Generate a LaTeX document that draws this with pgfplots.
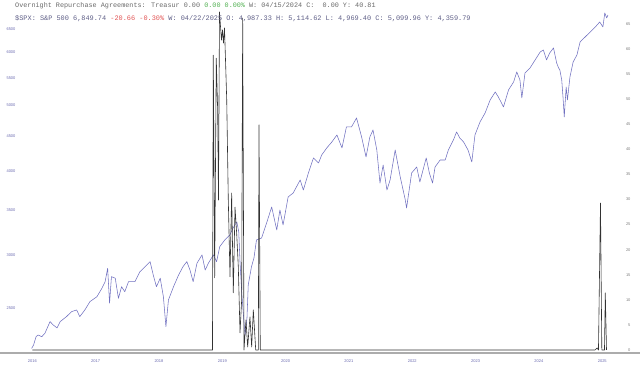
\documentclass[border=0pt]{standalone}
\usepackage{pgfplots}
\pgfplotsset{compat=1.18}
\usepackage{pgfplotstable}
\usepackage{fontspec}
\setmainfont{Liberation Sans}
\newfontfamily\monofont{Liberation Mono}
\definecolor{spx}{RGB}{112,112,192}
\definecolor{rp}{RGB}{50,50,50}
\definecolor{hdr}{RGB}{105,105,105}
\definecolor{hdrb}{RGB}{95,95,135}
\definecolor{grn}{RGB}{80,175,80}
\definecolor{rd}{RGB}{225,85,85}
\definecolor{lbl}{RGB}{105,105,175}
\definecolor{rlbl}{RGB}{125,125,125}

\pgfplotstableread{
t v
2015.99 2177
2016.02 2202
2016.06 2266
2016.09 2279
2016.15 2266
2016.20 2293
2016.28 2386
2016.33 2359
2016.39 2335
2016.44 2386
2016.54 2427
2016.62 2469
2016.70 2483
2016.75 2427
2016.83 2483
2016.91 2555
2017.02 2598
2017.10 2675
2017.15 2736
2017.19 2864
2017.22 2541
2017.25 2783
2017.31 2768
2017.36 2584
2017.41 2689
2017.46 2643
2017.52 2736
2017.62 2736
2017.70 2831
2017.78 2880
2017.86 2930
2017.91 2799
2017.96 2689
2018.02 2768
2018.07 2598
2018.11 2345
2018.15 2570
2018.23 2689
2018.31 2799
2018.38 2880
2018.44 2930
2018.49 2847
2018.54 2736
2018.60 2914
2018.68 2998
2018.73 2847
2018.78 2914
2018.86 2998
2018.91 2930
2018.96 3084
2019.04 3156
2019.12 3210
2019.17 3288
2019.23 3357
2019.26 3244
2019.28 2927
2019.31 2614
2019.34 2399
2019.36 2279
2019.39 2416
2019.41 2705
2019.46 2877
2019.50 2967
2019.54 3156
2019.62 3177
2019.70 3345
2019.78 3533
2019.86 3266
2019.91 3497
2019.96 3322
2020.04 3657
2020.12 3707
2020.23 3876
2020.28 3745
2020.36 3970
2020.44 4179
2020.52 4108
2020.57 4222
2020.65 4325
2020.73 4414
2020.81 4521
2020.89 4325
2020.96 4647
2021.04 4647
2021.12 4792
2021.20 4490
2021.27 4193
2021.33 4490
2021.38 4599
2021.44 4295
2021.49 3836
2021.54 4080
2021.60 3745
2021.65 3876
2021.73 4295
2021.81 3916
2021.89 3619
2021.91 3521
2021.99 3970
2022.07 4052
2022.12 3849
2022.17 4011
2022.22 4179
2022.27 3970
2022.32 3836
2022.36 4052
2022.44 4150
2022.52 4150
2022.57 4295
2022.65 4445
2022.70 4568
2022.75 4475
2022.81 4414
2022.88 4295
2022.94 4122
2022.99 4521
2023.07 4728
2023.15 4875
2023.23 5097
2023.31 5238
2023.36 5149
2023.44 4977
2023.52 5275
2023.60 5421
2023.65 5610
2023.70 5458
2023.73 5132
2023.78 5591
2023.86 5688
2023.94 5846
2024.02 6008
2024.07 6049
2024.12 5846
2024.17 5987
2024.23 6091
2024.28 5786
2024.31 5688
2024.33 5649
2024.36 5458
2024.38 5149
2024.40 4809
2024.43 5329
2024.45 5097
2024.49 5515
2024.54 5805
2024.60 5946
2024.65 6217
2024.73 6325
2024.81 6434
2024.89 6545
2024.96 6658
2025.01 6545
2025.04 6866
2025.07 6750
2025.09 6819
}\spxdata

\pgfplotstableread{
t v
2016.00 0
2018.845 0
2018.858 58.8
2018.880 14.4
2018.905 58.2
2018.927 47.9
2018.940 29.9
2018.956 67.4
2018.987 61.8
2019.003 63.8
2019.019 61.2
2019.035 64.2
2019.051 57.8
2019.070 49.9
2019.095 29.9
2019.122 14.6
2019.148 31.3
2019.174 11.4
2019.201 28.5
2019.227 23.3
2019.253 16.6
2019.280 3.4
2019.306 10.0
2019.322 66.2
2019.343 0
2019.374 6.0
2019.401 0.6
2019.437 6.6
2019.464 0.6
2019.490 8.0
2019.528 0
2019.569 0
2019.580 44.9
2019.600 0
2024.885 0
2024.920 0.4
2024.940 0
2024.972 29.3
2024.993 0
2025.035 0
2025.048 11.4
2025.067 0
}\rpdata

\begin{document}
\begin{tikzpicture}
\begin{axis}[name=main, at={(0pt,0pt)}, anchor=south west, width=640pt, height=353pt, scale only axis,
  xmin=2015.49, xmax=2025.596, ymode=log, ymin=2143, ymax=7179,
  axis x line*=bottom, axis y line*=left,
  x axis line style={draw=gray!65, line width=1.2pt, -},
  y axis line style={draw=none},
  tick style={draw=none},
  xtick={2016,2017,2018,2019,2020,2021,2022,2023,2024,2025},
  xticklabels={2016,2017,2018,2019,2020,2021,2022,2023,2024,2025},
  xticklabel style={font=\fontsize{4}{4}\selectfont, text=lbl, yshift=-3pt},
  ytick={2500,3000,3500,4000,4500,5000,5500,6000,6500},
  yticklabels={2500,3000,3500,4000,4500,5000,5500,6000,6500},
  yticklabel style={font=\fontsize{4}{4}\selectfont, text=lbl, anchor=west, xshift=3pt},
  clip=false]
\addplot[spx, line width=0.55pt, line join=round] table[x=t,y=v] {\spxdata};
\end{axis}
\begin{axis}[at={(0pt,0pt)}, anchor=south west, width=640pt, height=353pt, scale only axis,
  xmin=2015.49, xmax=2025.596, ymin=-0.6, ymax=69.79,
  axis x line=none, axis y line*=right,
  y axis line style={draw=none},
  tick style={draw=none},
  ytick={0,5,10,15,20,25,30,35,40,45,50,55,60,65},
  yticklabels={0,5,10,15,20,25,30,35,40,45,50,55,60,65},
  yticklabel style={font=\fontsize{4}{4}\selectfont, text=rlbl, anchor=east, xshift=-6pt},
  clip=false]
\addplot[rp, line width=0.6pt, line join=round] table[x=t,y=v] {\rpdata};
\end{axis}
\node[anchor=west, inner sep=0pt, font=\monofont\fontsize{6.8}{7}\selectfont, text=hdr] at (15pt,347pt)
  {Overnight Repurchase Agreements: Treasur 0.00 \textcolor{grn}{0.00 0.00\%} W: 04/15/2024 C:\ \ 0.00 Y: 40.81};
\node[anchor=west, inner sep=0pt, font=\monofont\fontsize{6.9}{7}\selectfont, text=hdrb] at (15pt,334pt)
  {\$SPX: S\&P 500 6,849.74 \textcolor{rd}{-20.66 -0.30\%} W: 04/22/2025 O: 4,987.33 H: 5,114.62 L: 4,969.40 C: 5,099.96 Y: 4,359.79};
\pgfresetboundingbox
\path (0pt,-18pt) rectangle (640pt,353pt);
\end{tikzpicture}
\end{document}
